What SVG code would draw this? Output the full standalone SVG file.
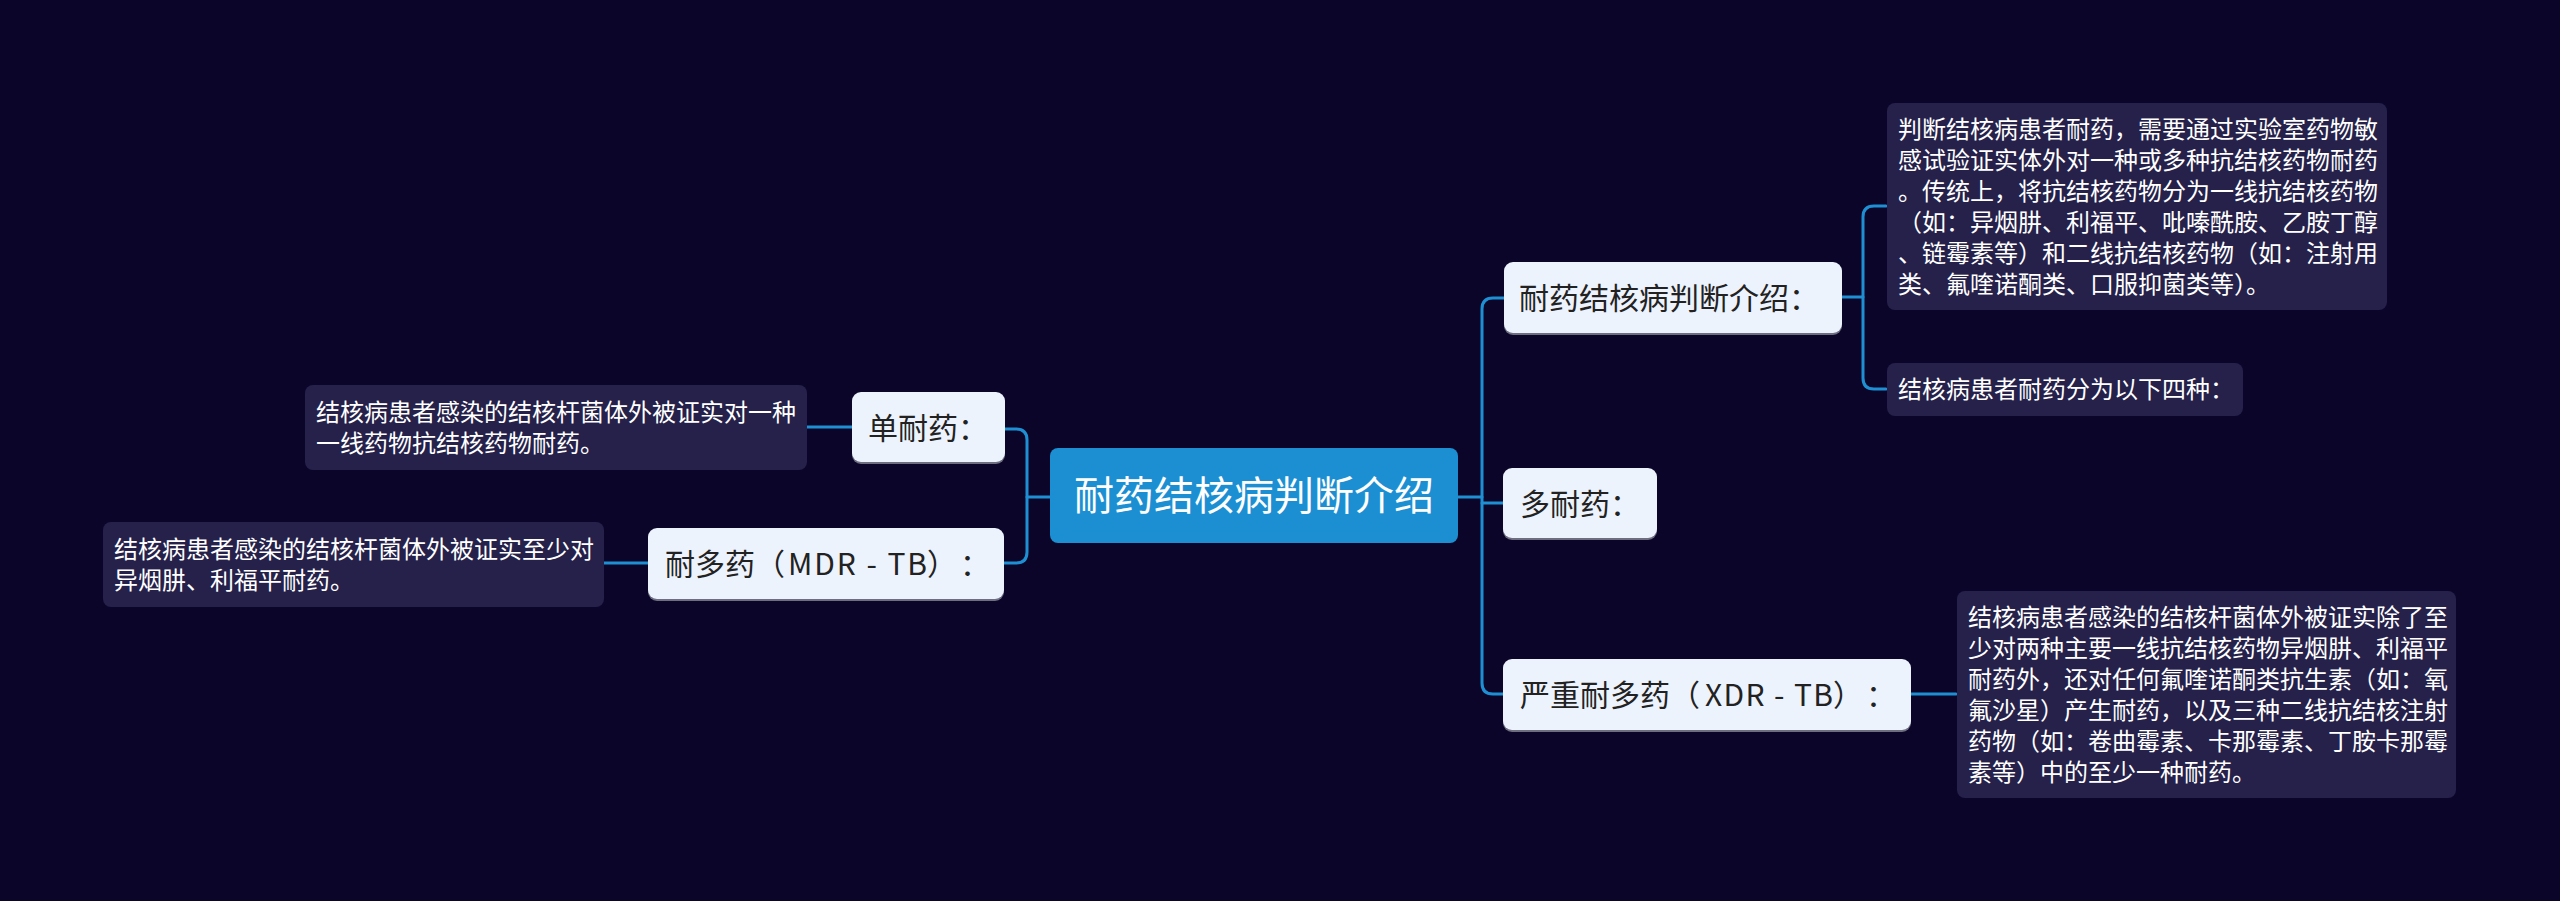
<svg xmlns="http://www.w3.org/2000/svg" width="2560" height="901" viewBox="0 0 2560 901">
<style>
.bg{fill:#0b0629}
.conn{fill:none;stroke:#1f8fd4;stroke-width:3;stroke-linecap:round}
.node{fill:#edf3fd}
.shadow{fill:#6d6f80}
.box{fill:#25214a}
.nt{font-family:"Noto Sans CJK SC","Noto Sans",sans-serif;font-size:30px;fill:#222222}
.bt{font-family:"Noto Sans CJK SC","Noto Sans",sans-serif;font-size:24px;fill:#ffffff}
.ct{font-family:"Noto Sans CJK SC","Noto Sans",sans-serif;font-size:40px;fill:#ffffff}
</style>
<rect class="bg" x="0" y="0" width="2560" height="901"/>
<g id="connectors">
<path class="conn" d="M1050,497 H1027"/>
<path class="conn" d="M1005,429 H1016 Q1027,429 1027,440 V552 Q1027,563 1016,563 H1004"/>
<path class="conn" d="M807,427 H852"/>
<path class="conn" d="M604,563 H649"/>
<path class="conn" d="M1458,497 H1482"/>
<path class="conn" d="M1504,298 H1493 Q1482,298 1482,309 V683 Q1482,694 1493,694 H1504"/>
<path class="conn" d="M1482,503 H1504"/>
<path class="conn" d="M1842,297 H1863"/>
<path class="conn" d="M1886,206 H1874 Q1863,206 1863,217 V378 Q1863,389 1874,389 H1886"/>
<path class="conn" d="M1911,694 H1956"/>
</g>
<g id="root">
<rect x="1050" y="448" width="408" height="95" rx="8" fill="#1c8fd3"/>
<text class="ct" x="1254" y="510" text-anchor="middle">耐药结核病判断介绍</text>
</g>
<g id="n-intro">
<rect class="shadow" x="1504" y="264" width="338" height="71" rx="9"/>
<rect class="node" x="1504" y="262" width="338" height="71" rx="9"/>
<text class="nt" x="1519" y="309">耐药结核病判断介绍：</text>
</g>
<g id="t-intro1">
<rect class="box" x="1887" y="103" width="500" height="207" rx="8"/>
<text class="bt" x="1898" y="138">判断结核病患者耐药，需要通过实验室药物敏</text>
<text class="bt" x="1898" y="169">感试验证实体外对一种或多种抗结核药物耐药</text>
<text class="bt" x="1898" y="200">。传统上，将抗结核药物分为一线抗结核药物</text>
<text class="bt" x="1898" y="231">（如：异烟肼、利福平、吡嗪酰胺、乙胺丁醇</text>
<text class="bt" x="1898" y="262">、链霉素等）和二线抗结核药物（如：注射用</text>
<text class="bt" x="1898" y="293">类、氟喹诺酮类、口服抑菌类等）。</text>
</g>
<g id="t-intro2">
<rect class="box" x="1887" y="363" width="356" height="53" rx="8"/>
<text class="bt" x="1898" y="398">结核病患者耐药分为以下四种：</text>
</g>
<g id="n-multi">
<rect class="shadow" x="1503" y="470" width="154" height="70" rx="9"/>
<rect class="node" x="1503" y="468" width="154" height="70" rx="9"/>
<text class="nt" x="1520" y="515">多耐药：</text>
</g>
<g id="n-xdr">
<rect class="shadow" x="1503" y="661" width="408" height="71" rx="9"/>
<rect class="node" x="1503" y="659" width="408" height="71" rx="9"/>
<text class="nt" x="1520" y="706">严重耐多药（<tspan x="1705" textLength="128" lengthAdjust="spacing">XDR - TB</tspan><tspan x="1833">）</tspan><tspan x="1866">：</tspan></text>
</g>
<g id="t-xdr">
<rect class="box" x="1957" y="591" width="499" height="207" rx="8"/>
<text class="bt" x="1968" y="626">结核病患者感染的结核杆菌体外被证实除了至</text>
<text class="bt" x="1968" y="657">少对两种主要一线抗结核药物异烟肼、利福平</text>
<text class="bt" x="1968" y="688">耐药外，还对任何氟喹诺酮类抗生素（如：氧</text>
<text class="bt" x="1968" y="719">氟沙星）产生耐药，以及三种二线抗结核注射</text>
<text class="bt" x="1968" y="750">药物（如：卷曲霉素、卡那霉素、丁胺卡那霉</text>
<text class="bt" x="1968" y="781">素等）中的至少一种耐药。</text>
</g>
<g id="n-single">
<rect class="shadow" x="852" y="394" width="153" height="70" rx="9"/>
<rect class="node" x="852" y="392" width="153" height="70" rx="9"/>
<text class="nt" x="868" y="439">单耐药：</text>
</g>
<g id="t-single">
<rect class="box" x="305" y="385" width="502" height="85" rx="8"/>
<text class="bt" x="316" y="421">结核病患者感染的结核杆菌体外被证实对一种</text>
<text class="bt" x="316" y="452">一线药物抗结核药物耐药。</text>
</g>
<g id="n-mdr">
<rect class="shadow" x="648" y="530" width="356" height="71" rx="9"/>
<rect class="node" x="648" y="528" width="356" height="71" rx="9"/>
<text class="nt" x="665" y="575">耐多药（<tspan x="788" textLength="139" lengthAdjust="spacing">MDR - TB</tspan><tspan x="927">）</tspan><tspan x="960">：</tspan></text>
</g>
<g id="t-mdr">
<rect class="box" x="103" y="522" width="501" height="85" rx="8"/>
<text class="bt" x="114" y="558">结核病患者感染的结核杆菌体外被证实至少对</text>
<text class="bt" x="114" y="589">异烟肼、利福平耐药。</text>
</g>
</svg>
